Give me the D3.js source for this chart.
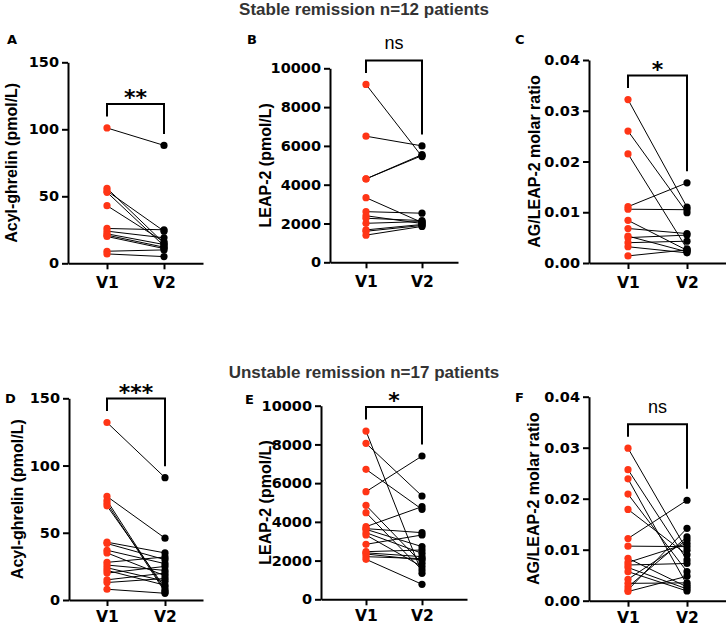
<!DOCTYPE html>
<html><head><meta charset="utf-8">
<script src="https://cdn.jsdelivr.net/npm/d3@7"></script>
<style>body{margin:0;background:#fff}svg{display:block}</style>
</head><body>
<svg id="chart" width="726" height="627"></svg>
<script>
// ---------- data ----------
const visits = ["V1", "V2"];
const acylTicks = [0, 50, 100, 150];
const leapTicks = [0, 2000, 4000, 6000, 8000, 10000];
const ratioTicks = [0, 0.01, 0.02, 0.03, 0.04];

const groupTitles = ["Stable remission n=12 patients", "Unstable remission n=17 patients"];
const panelLetters = ["A", "B", "C", "D", "E", "F"];
const yLabels = ["Acyl-ghrelin (pmol/L)", "LEAP-2 (pmol/L)", "AG/LEAP-2 molar ratio"];
const sigLabels = ["**", "ns", "*", "***", "*", "ns"];

// Stable remission (n=12)
const stableAcylV1 = [101, 56, 54, 53, 43, 26, 24, 22, 21, 20, 9, 7];
const stableAcylV2 = [88, 15, 24, 13, 16, 25, 19, 14, 12, 11, 10, 5];
const stableLeapV1 = [9170, 6500, 4300, 4300, 3330, 2610, 2400, 2270, 2010, 1670, 1600, 1400];
const stableLeapV2 = [5450, 6000, 5500, 5550, 2050, 2530, 2000, 2150, 2100, 1950, 1900, 1850];
const stableRatioV1 = [0.0322, 0.0260, 0.0215, 0.0111, 0.0106, 0.0084, 0.0068, 0.0053, 0.0050, 0.0040, 0.0032, 0.0014];
const stableRatioV2 = [0.0110, 0.0099, 0.0028, 0.0158, 0.0105, 0.0025, 0.0058, 0.0022, 0.0055, 0.0043, 0.0020, 0.0026];

// Unstable remission (n=17)
const unstableAcylV1 = [132, 77, 74, 72, 70, 43, 42, 37, 35, 28, 26, 24, 22, 20, 15, 13, 8];
const unstableAcylV2 = [91, 46, 7, 6, 9, 35, 30, 27, 18, 32, 22, 14, 11, 25, 20, 16, 5];
const unstableLeapV1 = [8690, 8055, 6713, 5560, 4854, 4475, 3752, 3650, 3614, 3442, 3322, 2840, 2460, 2400, 2340, 2203, 2065];
const unstableLeapV2 = [1342, 5336, 4648, 7401, 1858, 1514, 4785, 3442, 2720, 2375, 1686, 3322, 2547, 2203, 2030, 2100, 775];
const unstableRatioV1 = [0.0299, 0.0257, 0.0239, 0.0209, 0.0179, 0.0122, 0.0107, 0.0083, 0.0075, 0.0070, 0.0065, 0.0057, 0.0042, 0.0034, 0.0027, 0.0021, 0.0018];
const unstableRatioV2 = [0.0099, 0.0080, 0.0031, 0.0057, 0.0090, 0.0197, 0.0106, 0.0027, 0.0112, 0.0073, 0.0023, 0.0019, 0.0119, 0.0035, 0.0125, 0.0142, 0.0048];

// ---------- layout ----------
const layout = [
  {ax: 68,  top: 62.3,  bottom: 263.3, v1: 107, v2: 164, labelX: 11,  letterX: 7,   letterY: 44, xPad: 8},
  {ax: 330, top: 68.3,  bottom: 262.3, v1: 366, v2: 422, labelX: 265, letterX: 247, letterY: 44, xPad: 8},
  {ax: 589, top: 60,    bottom: 263,   v1: 628, v2: 687, labelX: 534, letterX: 515, letterY: 44, xPad: 8},
  {ax: 69,  top: 398.3, bottom: 600,   v1: 107, v2: 165, labelX: 17,  letterX: 5,   letterY: 403, xPad: 5},
  {ax: 321, top: 405.7, bottom: 599.3, v1: 366, v2: 422, labelX: 265, letterX: 245, letterY: 404, xPad: 5},
  {ax: 589, top: 396.7, bottom: 600.7, v1: 628, v2: 687, labelX: 533, letterX: 515, letterY: 402, xPad: 5}
];
const titleY = [15, 378];

const panels = [
  {v1: stableAcylV1, v2: stableAcylV2, ticks: acylTicks, fmt: d3.format("d"), label: yLabels[0]},
  {v1: stableLeapV1, v2: stableLeapV2, ticks: leapTicks, fmt: d3.format("d"), label: yLabels[1]},
  {v1: stableRatioV1, v2: stableRatioV2, ticks: ratioTicks, fmt: d3.format(".2f"), label: yLabels[2]},
  {v1: unstableAcylV1, v2: unstableAcylV2, ticks: acylTicks, fmt: d3.format("d"), label: yLabels[0]},
  {v1: unstableLeapV1, v2: unstableLeapV2, ticks: leapTicks, fmt: d3.format("d"), label: yLabels[1]},
  {v1: unstableRatioV1, v2: unstableRatioV2, ticks: ratioTicks, fmt: d3.format(".2f"), label: yLabels[2]}
];

const RED = "#ff3516";
const svg = d3.select("#chart");
const tickFont = "'DejaVu Sans', sans-serif";
const titleFont = "'Liberation Sans', Arial, sans-serif";

groupTitles.forEach((t, i) => {
  svg.append("text").attr("x", 364).attr("y", titleY[i])
    .attr("text-anchor", "middle").attr("font-family", titleFont)
    .attr("font-weight", "bold").attr("font-size", 17).attr("fill", "#333")
    .text(t);
});

panels.forEach((p, i) => {
  const L = layout[i];
  const step = L.v2 - L.v1;
  const pad = (L.v1 - L.ax) / step;
  const x = d3.scalePoint().domain(visits)
    .range([L.ax, L.ax + step * (1 + 2 * pad)]).padding(pad);
  const y = d3.scaleLinear().domain([0, d3.max(p.ticks)]).range([L.bottom, L.top]);
  const g = svg.append("g");

  // y axis
  const ya = g.append("g").attr("transform", `translate(${L.ax},0)`)
    .call(d3.axisLeft(y).tickValues(p.ticks).tickFormat(p.fmt).tickSize(6).tickSizeOuter(0).tickPadding(3));
  // x axis
  const xa = g.append("g").attr("transform", `translate(0,${L.bottom})`)
    .call(d3.axisBottom(x).tickSize(6).tickSizeOuter(0).tickPadding(L.xPad));
  [ya, xa].forEach(a => {
    a.select(".domain").attr("stroke", "#000").attr("stroke-width", 2);
    a.selectAll(".tick line").attr("stroke", "#000").attr("stroke-width", 2);
    a.selectAll("text").attr("font-family", tickFont).attr("font-weight", "bold").attr("fill", "#000");
  });
  ya.selectAll("text").attr("font-size", 14.5);
  xa.selectAll("text").attr("font-size", 15.5);

  // y label
  g.append("text")
    .attr("transform", `translate(${L.labelX},${(L.top + L.bottom) / 2}) rotate(-90)`)
    .attr("text-anchor", "middle").attr("dominant-baseline", "central")
    .attr("font-family", titleFont).attr("font-weight", "bold").attr("font-size", 16)
    .attr("fill", "#000").text(p.label);

  // panel letter
  g.append("text").attr("x", L.letterX).attr("y", L.letterY)
    .attr("font-family", tickFont).attr("font-weight", "bold").attr("font-size", 13)
    .attr("fill", "#000").text(panelLetters[i]);

  // paired lines
  const pairs = p.v1.map((a, k) => [a, p.v2[k]]);
  g.append("g").selectAll("line").data(pairs).join("line")
    .attr("x1", x("V1")).attr("x2", x("V2"))
    .attr("y1", d => y(d[0])).attr("y2", d => y(d[1]))
    .attr("stroke", "#000").attr("stroke-width", 1);
  // points
  g.append("g").selectAll("circle").data(p.v1).join("circle")
    .attr("cx", x("V1")).attr("cy", d => y(d)).attr("r", 3.6).attr("fill", RED);
  g.append("g").selectAll("circle").data(p.v2).join("circle")
    .attr("cx", x("V2")).attr("cy", d => y(d)).attr("r", 3.6).attr("fill", "#000");

  // significance bracket
  const yL = y(d3.max(p.v1)) - 11.5;
  const yR = y(d3.max(p.v2)) - 11.5;
  const yTop = Math.min(yL, yR) - 12.5;
  g.append("path")
    .attr("d", `M${x("V1")},${yL}V${yTop}H${x("V2")}V${yR}`)
    .attr("fill", "none").attr("stroke", "#000").attr("stroke-width", 2);
  const cx = (x("V1") + x("V2")) / 2;
  const sig = sigLabels[i];
  if (sig === "ns") {
    g.append("text").attr("x", cx).attr("y", yTop - 11).attr("text-anchor", "middle")
      .attr("font-family", titleFont).attr("font-size", 18).attr("fill", "#000").text(sig);
  } else {
    g.append("text").attr("x", cx).attr("y", yTop + 1).attr("text-anchor", "middle")
      .attr("font-family", tickFont).attr("font-weight", "bold").attr("font-size", 22)
      .attr("fill", "#000").text(sig);
  }
});
</script>
</body></html>
